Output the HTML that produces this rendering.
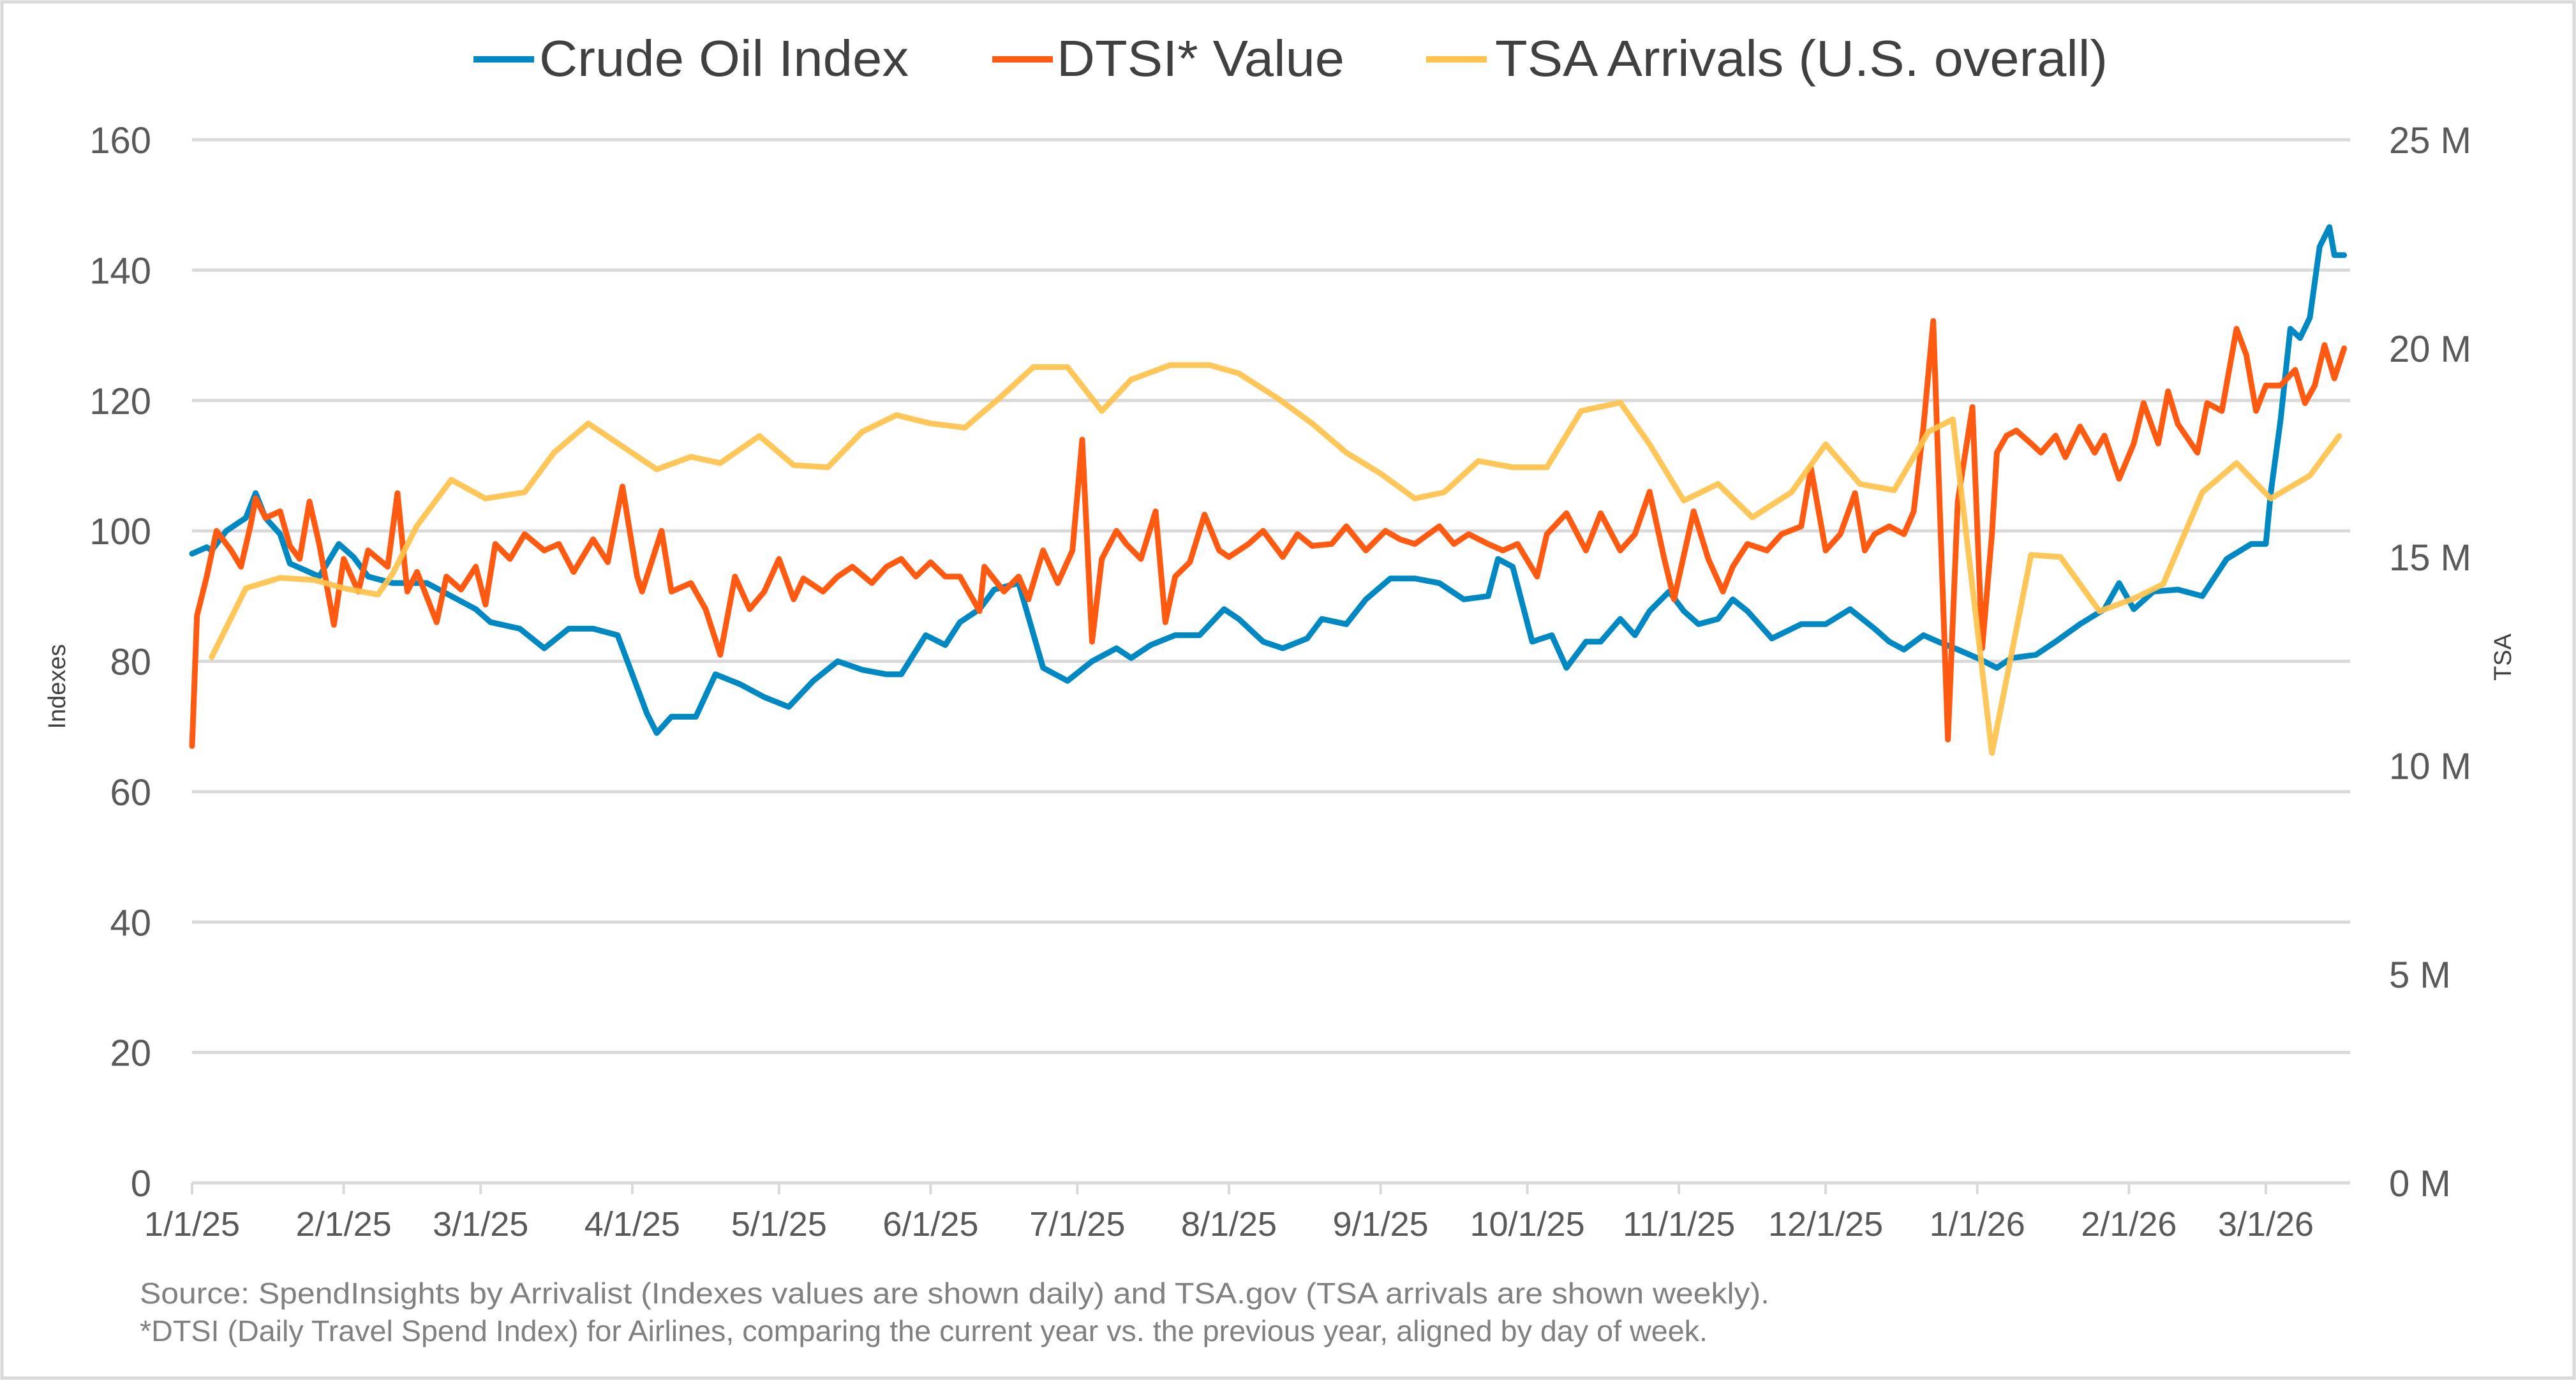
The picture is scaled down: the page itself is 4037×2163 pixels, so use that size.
<!DOCTYPE html>
<html><head><meta charset="utf-8"><style>
html,body{margin:0;padding:0;background:#fff;}
svg{display:block;font-family:"Liberation Sans",sans-serif;}
</style></head><body>
<svg id="chart" width="4037" height="2163" viewBox="0 0 4037 2163" xmlns="http://www.w3.org/2000/svg">
<rect x="3" y="3" width="4031" height="2157" fill="#fff" stroke="#d9d9d9" stroke-width="5"/>
<g id="grid"></g><g id="axes"></g><g id="series"></g>
<g>
 <g><line x1="742" y1="93" x2="837" y2="93" stroke="#0088c2" stroke-width="10"/><text x="845" y="119" font-size="80" fill="#404040" textLength="579" lengthAdjust="spacingAndGlyphs">Crude Oil Index</text></g>
 <g><line x1="1555" y1="93" x2="1650" y2="93" stroke="#fe5a12" stroke-width="10"/><text x="1656" y="119" font-size="80" fill="#404040" textLength="451" lengthAdjust="spacingAndGlyphs">DTSI* Value</text></g>
 <g><line x1="2235" y1="93" x2="2330" y2="93" stroke="#ffc24c" stroke-width="10"/><text x="2343" y="119" font-size="80" fill="#404040" textLength="960" lengthAdjust="spacingAndGlyphs">TSA Arrivals (U.S. overall)</text></g>
</g>
<text transform="translate(102,1076) rotate(-90)" text-anchor="middle" font-size="38" fill="#404040">Indexes</text>
<text transform="translate(3935,1030) rotate(-90)" text-anchor="middle" font-size="38" fill="#404040">TSA</text>
<text x="219" y="2043" font-size="46" fill="#808080" textLength="2554" lengthAdjust="spacingAndGlyphs">Source: SpendInsights by Arrivalist (Indexes values are shown daily) and TSA.gov (TSA arrivals are shown weekly).</text>
<text x="219" y="2102" font-size="46" fill="#808080" textLength="2457" lengthAdjust="spacingAndGlyphs">*DTSI (Daily Travel Spend Index) for Airlines, comparing the current year vs. the previous year, aligned by day of week.</text>
</svg>
<script>
const leftTicks=[0,20,40,60,80,100,120,140,160];
const rightTicks=["0 M","5 M","10 M","15 M","20 M","25 M"];
const monthDays=[0,31,59,90,120,151,181,212,243,273,304,334,365,396,424];
const monthLabels=["1/1/25","2/1/25","3/1/25","4/1/25","5/1/25","6/1/25","7/1/25","8/1/25","9/1/25","10/1/25","11/1/25","12/1/25","1/1/26","2/1/26","3/1/26"];
const crudeDays=[0,3,4,7,9,11,13,15,18,20,23,26,30,33,36,41,48,53,58,61,67,72,77,82,87,90,93,95,98,103,107,112,117,122,127,132,137,142,145,150,154,157,161,164,169,174,179,184,189,192,196,201,206,211,214,219,223,228,231,236,240,245,250,255,260,265,267,270,274,278,281,285,288,292,295,298,302,305,308,312,315,318,323,329,334,339,344,347,350,354,357,361,365,369,372,377,381,386,391,394,397,401,406,411,416,421,424,425,427,429,431,433,435,437,438,440];
const crudeValues=[96.5,97.5,97,100,101,102,105.8,102,99.5,95,94,93,98,96,93,92,92,90,88,86,85,82,85,85,84,78,72,69,71.5,71.5,78,76.5,74.5,73,77,80,78.7,78,78,84,82.5,86,88,91,92,79,77,80,82,80.5,82.5,84,84,88,86.5,83,82,83.5,86.5,85.7,89.5,92.7,92.7,92,89.5,90,95.7,94.5,83,84,79,83,83,86.5,84,87.7,90.7,87.7,85.7,86.5,89.5,87.7,83.5,85.7,85.7,88,85,83,81.8,84,83,81.8,80.5,79,80.5,81,83,85.7,88,92,88,90.7,91,90,95.7,98,98,105.8,117,131,129.6,132.7,143.6,146.6,142.3,142.3];
const dtsiDays=[0,1,3,5,8,10,12,13,15,18,20,22,24,26,29,31,34,36,40,42,44,46,50,52,55,58,60,62,65,68,72,75,78,82,85,88,91,92,96,98,102,105,108,111,114,117,120,123,125,129,132,135,139,142,145,148,151,154,157,161,162,166,169,171,174,177,180,182,184,186,189,191,194,197,199,201,204,207,210,212,216,219,223,226,229,233,236,240,244,247,250,255,258,261,265,268,271,275,277,281,285,288,292,295,298,301,303,307,310,313,315,318,322,325,329,331,334,337,340,342,344,347,350,352,354,356,359,361,364,366,368,369,371,373,376,378,381,383,386,389,391,394,397,399,402,404,406,410,412,415,418,420,422,424,427,430,432,434,436,438,440];
const dtsiValues=[67,87,93,100,97,94.5,101,105,102,103,97.7,95.7,104.5,98,85.6,95.7,90.7,97,94.5,105.8,90.7,93.7,86,93,91,94.5,88.7,98,95.7,99.5,97,98,93.7,98.7,95.2,106.8,93,90.7,100,90.7,92,88,81,93,88,90.7,95.7,89.5,92.7,90.7,93,94.5,92,94.5,95.7,93,95.2,93,93,87.7,94.5,90.7,93,89.5,97,92,97,114,83,95.7,100,98,95.7,103,86,93,95.2,102.5,97,96,98,100,96,99.5,97.7,98,100.7,97,100,98.7,98,100.7,98,99.5,98,97,98,93,99.5,102.7,97,102.7,97,99.5,106,95.7,89.5,103,95.7,90.7,94.5,98,97,99.5,100.7,109.6,97,99.5,105.8,97,99.5,100.7,99.5,103,116,132.2,68,104.5,119,82,99.5,112,114.6,115.4,113.4,112,114.6,111.3,116,112,114.6,108,113.4,119.6,113.4,121.4,116.4,112,119.6,118.4,131,127,118.4,122.3,122.3,124.7,119.6,122.3,128.5,123.4,128];
const tsaDays=[4,11,18,25,31,38,41,46,53,60,68,74,81,88,95,102,108,116,123,130,137,144,151,158,165,172,179,186,192,200,208,214,222,229,236,243,250,256,263,270,277,284,292,298,305,312,319,327,334,341,348,355,360,368,376,382,390,397,403,411,418,425,433,439];
const tsaMillions=[12.6,14.25,14.5,14.45,14.25,14.1,14.6,15.75,16.85,16.4,16.55,17.5,18.2,17.65,17.1,17.4,17.25,17.9,17.2,17.15,18.0,18.4,18.2,18.1,18.8,19.55,19.55,18.5,19.25,19.6,19.6,19.4,18.8,18.2,17.5,17.0,16.4,16.55,17.3,17.15,17.15,18.5,18.7,17.7,16.35,16.75,15.95,16.55,17.7,16.75,16.6,18.0,18.3,10.3,15.05,15.0,13.7,14.0,14.35,16.55,17.25,16.4,16.95,17.9];

const NS="http://www.w3.org/2000/svg";
const X0=301,PXDAY=7.665,Y0=1854,PLOTR=3683;
function xs(d){return X0+d*PXDAY;}
function yl(v){return Y0-v*(1635/160);}
function yr(m){return Y0-m*(1635/25);}
function mk(tag,attrs,parent,text){const e=document.createElementNS(NS,tag);for(const k in attrs)e.setAttribute(k,attrs[k]);if(text!==undefined)e.textContent=text;parent.appendChild(e);return e;}
const grid=document.getElementById('grid'),axes=document.getElementById('axes'),ser=document.getElementById('series');
leftTicks.forEach(v=>{
 const l=mk('line',{x1:X0,x2:PLOTR,y1:yl(v),y2:yl(v),stroke:'#d9d9d9','stroke-width':5},grid);
 
 
 const t=mk('text',{x:237,y:yl(v)+21,'text-anchor':'end','font-size':58,fill:'#595959'},axes,String(v));
 
 
});
rightTicks.forEach((s,i)=>{
 const t=mk('text',{x:3744,y:yr(i*5)+21,'font-size':58,fill:'#595959'},axes,s);
 
 
});
monthDays.forEach((d,i)=>{
 const tk=mk('line',{x1:xs(d),x2:xs(d),y1:Y0,y2:Y0+18,stroke:'#d9d9d9','stroke-width':4},axes);
 
 
 const t=mk('text',{x:xs(d),y:1937,'text-anchor':'middle','font-size':54,fill:'#595959'},axes,monthLabels[i]);
 
 
});
function line(days,vals,fy,color,name,op){
 const p=days.map((d,i)=>(i?'L':'M')+xs(d).toFixed(1)+' '+fy(vals[i]).toFixed(1)).join(' ');
 const e=mk('path',{d:p,fill:'none',stroke:color,'stroke-width':9,'stroke-linejoin':'round','stroke-linecap':'round',opacity:op},ser);
 
 
}
line(crudeDays,crudeValues,yl,'#0088c2','crude-oil-index-line',1);
line(dtsiDays,dtsiValues,yl,'#fe5a12','dtsi-value-line',1);
line(tsaDays,tsaMillions,yr,'#ffc24c','tsa-arrivals-line',0.92);
</script>
</body></html>
